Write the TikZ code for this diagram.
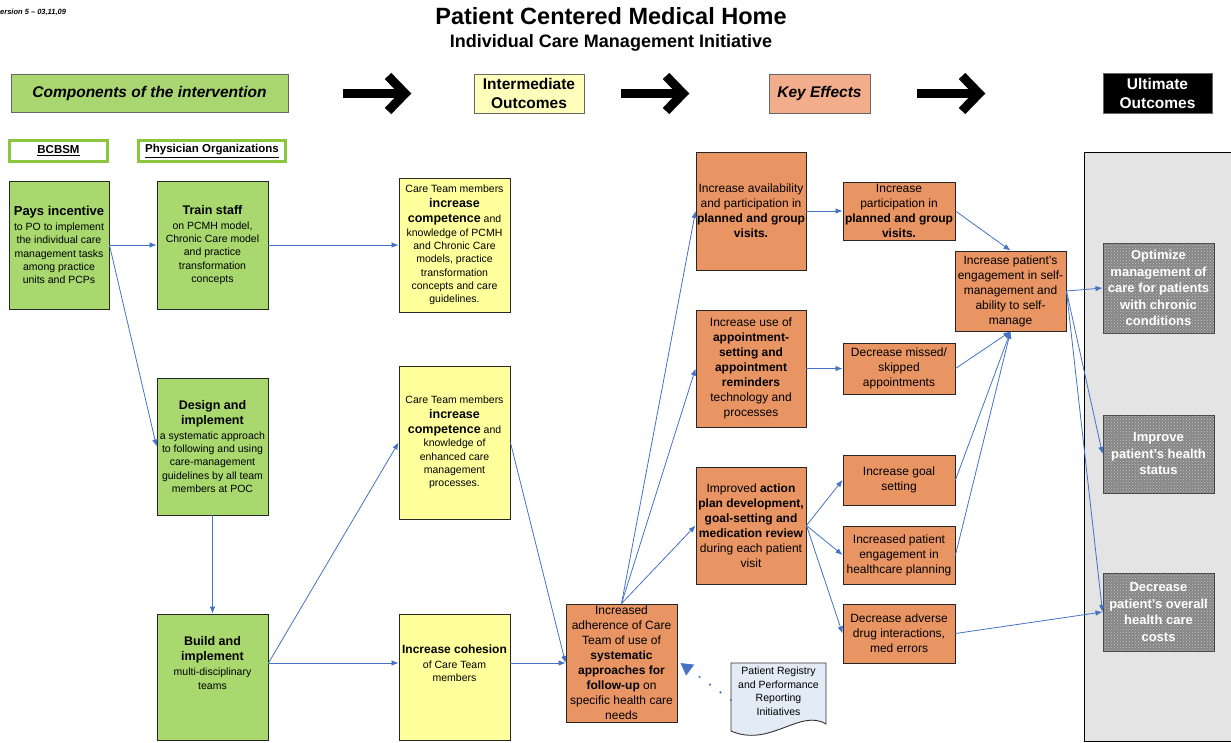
\documentclass[tikz,border=0pt]{standalone}
\usepackage{fontspec}
\setmainfont{Liberation Sans}
\usetikzlibrary{arrows.meta,patterns}
\definecolor{cgreen}{HTML}{A9D86E}
\definecolor{cgreenh}{HTML}{A9D670}
\definecolor{cgreenb}{HTML}{8CC63F}
\definecolor{cyellow}{HTML}{FFFF9C}
\definecolor{cyellowh}{HTML}{FFFFBB}
\definecolor{corange}{HTML}{E99563}
\definecolor{corangeh}{HTML}{F2AE8C}
\definecolor{cblue}{HTML}{4472C4}
\definecolor{cpanel}{HTML}{E4E4E4}
\definecolor{cdoc}{HTML}{E3EBF7}
\definecolor{cugray}{HTML}{858585}
\newcommand\myfs[2]{\fontsize{#1}{#2}\selectfont}
\newcommand\bl[1]{{\bfseries\myfs{12.5}{15}#1}}
\begin{document}
\begin{tikzpicture}[x=1pt,y=-1pt,
  hdr/.style={draw=black!60, line width=0.8pt, align=center, inner sep=0pt, font=\bfseries\myfs{15.5}{19}},
  pobox/.style={draw=cgreenb, line width=2.5pt, fill=white, inner sep=0pt, font=\bfseries\myfs{11.5}{13}},
  base/.style={draw=black!85, line width=0.9pt, align=center, inner sep=0pt},
  gbox/.style={base, fill=cgreen, font=\myfs{10.5}{13.3}},
  ybox/.style={base, fill=cyellow, font=\myfs{10.5}{13.3}},
  obox/.style={base, fill=corange, font=\myfs{12}{15}},
  ubox/.style={draw=black!75, line width=1pt, fill=cugray, postaction={pattern=crosshatch dots, pattern color=gray!45}, text=white, align=center, inner sep=0pt, font=\bfseries\myfs{13}{16.5}},
  txt/.style={align=center, inner sep=0pt},
  conn/.style={draw=cblue, line width=0.8pt, -{Latex[length=7pt,width=5.5pt]}},
  bigarrow/.style={line width=9pt, miter limit=10},
]
\useasboundingbox (0,0) rectangle (1231,742);

% title
\node[font=\bfseries\myfs{23.5}{27}] (title) at (611,16) {Patient Centered Medical Home};
\node[font=\bfseries\myfs{18}{21}] (subtitle) at (611,43) {Individual Care Management Initiative};
\node[anchor=west, inner sep=0pt, font=\bfseries\itshape\myfs{7.5}{9}] (ver) at (0,12) {ersion 5 – 03,11,09};

% header row
\node[hdr, fill=cgreenh, minimum width=277, minimum height=38, font=\bfseries\itshape\myfs{15.5}{19}] (comp) at (149.5,93) {Components of the intervention};
\node[hdr, fill=cyellowh, minimum width=110, minimum height=39] (inter) at (529,93.5) {Intermediate\\Outcomes};
\node[hdr, fill=corangeh, minimum width=101, minimum height=39, font=\bfseries\itshape\myfs{15.5}{19}] (key) at (819.5,93.5) {Key Effects};
\node[hdr, fill=black, text=white, minimum width=109, minimum height=40] (ult) at (1157.5,93) {Ultimate\\Outcomes};

% big black arrows
\draw[bigarrow] (343,93.5) -- (404,93.5);
\draw[bigarrow] (388,76) -- (405,93.5) -- (388,111);
\draw[bigarrow] (621,93.5) -- (682,93.5);
\draw[bigarrow] (666,76) -- (683,93.5) -- (666,111);
\draw[bigarrow] (917,93.5) -- (978,93.5);
\draw[bigarrow] (962,76) -- (979,93.5) -- (962,111);

% organisation labels
\node[pobox, minimum width=98, minimum height=21] (bcbsm) at (58.5,151) {\underline{BCBSM}};
\node[pobox, minimum width=147, minimum height=21] (po) at (212,151) {\underline{Physician Organizations}};

% ultimate outcomes panel
\fill[cpanel] (1084,152) rectangle (1231,741);
\draw[black, line width=1pt] (1231,152) -- (1084,152) -- (1084,741) -- (1231,741);

% green boxes
\node[gbox, minimum width=100, minimum height=128] (pays) at (59,245)
  {{\bfseries\myfs{13}{15}Pays incentive}\\[1.7pt]to PO to implement\\the individual care\\management tasks\\among practice\\units and PCPs};
\node[gbox, minimum width=111, minimum height=128] (train) at (212.5,245)
  {\bl{Train staff}\\[1.7pt]on PCMH model,\\Chronic Care model\\and practice\\transformation\\concepts};
\node[gbox, minimum width=111, minimum height=137] (design) at (212.5,446.5)
  {\bl{Design and}\\[1.7pt]\bl{implement}\\[1.7pt]a systematic approach\\to following and using\\care-management\\guidelines by all team\\members at POC};
\node[gbox, minimum width=111, minimum height=126] (build) at (212.5,677) {};
\node[txt, font=\myfs{10.5}{13.3}] (buildt) at (212.5,663)
  {\bl{Build and}\\[1.7pt]\bl{implement}\\[1.7pt]multi-disciplinary\\teams};

% yellow boxes
\node[ybox, minimum width=111, minimum height=134] (yone) at (454.5,245)
  {Care Team members\\[1.7pt]\bl{increase}\\[1.7pt]\bl{competence} and\\knowledge of PCMH\\and Chronic Care\\models, practice\\transformation\\concepts and care\\guidelines.};
\node[ybox, minimum width=111, minimum height=153] (ytwo) at (454.5,442.5)
  {Care Team members\\[1.7pt]\bl{increase}\\[1.7pt]\bl{competence} and\\knowledge of\\enhanced care\\management\\processes.};
\node[ybox, minimum width=111, minimum height=126] (ythree) at (454.5,677) {};
\node[txt, font=\myfs{10.5}{13.3}] (ythreet) at (454.5,663)
  {{\bfseries\myfs{12}{15}Increase cohesion}\\[1.7pt]of Care Team\\members};

% orange boxes
\node[obox, minimum width=110, minimum height=118] (avail) at (751,211)
  {Increase availability\\and participation in\\\textbf{planned and group}\\\textbf{visits.}};
\node[obox, minimum width=110, minimum height=117] (appt) at (751,368.5)
  {Increase use of\\\textbf{appointment-}\\\textbf{setting and}\\\textbf{appointment}\\\textbf{reminders}\\technology and\\processes};
\node[obox, minimum width=110, minimum height=117] (action) at (751,525.5)
  {Improved \textbf{action}\\\textbf{plan development,}\\\textbf{goal-setting and}\\\textbf{medication review}\\during each patient\\visit};
\node[obox, minimum width=111, minimum height=118] (adher) at (621.5,663)
  {Increased\\adherence of Care\\Team of use of\\\textbf{systematic}\\\textbf{approaches for}\\\textbf{follow-up} on\\specific health care\\needs};
\node[obox, minimum width=112, minimum height=58] (partic) at (899,211)
  {Increase\\participation in\\\textbf{planned and group}\\\textbf{visits.}};
\node[obox, minimum width=112, minimum height=51] (missed) at (899,368.5)
  {Decrease missed/\\skipped\\appointments};
\node[obox, minimum width=112, minimum height=50] (goal) at (899,480)
  {Increase goal\\setting};
\node[obox, minimum width=112, minimum height=58] (engage) at (899,555)
  {Increased patient\\engagement in\\healthcare planning};
\node[obox, minimum width=112, minimum height=59] (adverse) at (899,633.5)
  {Decrease adverse\\drug interactions,\\med errors};
\node[obox, minimum width=111, minimum height=80] (selfm) at (1010.5,291)
  {Increase patient’s\\engagement in self-\\management and\\ability to self-\\manage};

% ultimate outcome boxes
\node[ubox, minimum width=111, minimum height=90] (opt) at (1158.5,288)
  {Optimize\\management of\\care for patients\\with chronic\\conditions};
\node[ubox, minimum width=111, minimum height=78] (impr) at (1158.5,454)
  {Improve\\patient’s health\\status};
\node[ubox, minimum width=111, minimum height=78] (cost) at (1158.5,612)
  {Decrease\\patient’s overall\\health care\\costs};

% document shape
\draw[black!80, line width=0.9pt, fill=cdoc] (731,663) -- (826,663) -- (826,724)
  .. controls (800,708) and (770,748) .. (731,731) -- cycle;
\node[txt, font=\myfs{10.5}{13.5}] (doc) at (778.5,691)
  {Patient Registry\\and Performance\\Reporting\\Initiatives};
\coordinate (docw) at (731,700);

% connectors
\draw[conn] (pays.east) -- (train.west);
\draw[conn] (pays.east) -- (design.west);
\draw[conn] (train.east) -- (yone.west);
\draw[conn] (design.south) -- (build.north);
\draw[conn] (build.east |- buildt) -- (ytwo.west);
\draw[conn] (build.east |- buildt) -- (ythree.west |- ythreet);
\draw[conn] (ytwo.east) -- (adher.west);
\draw[conn] (ythree.east |- ythreet) -- (adher.west);
\draw[conn] (adher.north) -- (avail.west);
\draw[conn] (adher.north) -- (appt.west);
\draw[conn] (adher.north) -- (action.west);
\draw[conn] (avail.east) -- (partic.west);
\draw[conn] (appt.east) -- (missed.west);
\draw[conn] (action.east) -- (goal.west);
\draw[conn] (action.east) -- (engage.west);
\draw[conn] (action.east) -- (adverse.west);
\draw[conn] (partic.east) -- (selfm.north);
\draw[conn] (missed.east) -- (selfm.south);
\draw[conn] (goal.east) -- (selfm.south);
\draw[conn] (engage.east) -- (selfm.south);
\draw[conn] (adverse.east) -- (cost.west);
\draw[conn] (selfm.east) -- (opt.west);
\draw[conn] (selfm.east) -- (impr.west);
\draw[conn] (selfm.east) -- (cost.west);
\draw[draw=cblue, line width=2.4pt, line cap=round, dash pattern=on 0pt off 13pt, -{Triangle[length=12pt,width=13pt]}] (docw) -- ([xshift=3pt]adher.east);
\end{tikzpicture}
\end{document}
